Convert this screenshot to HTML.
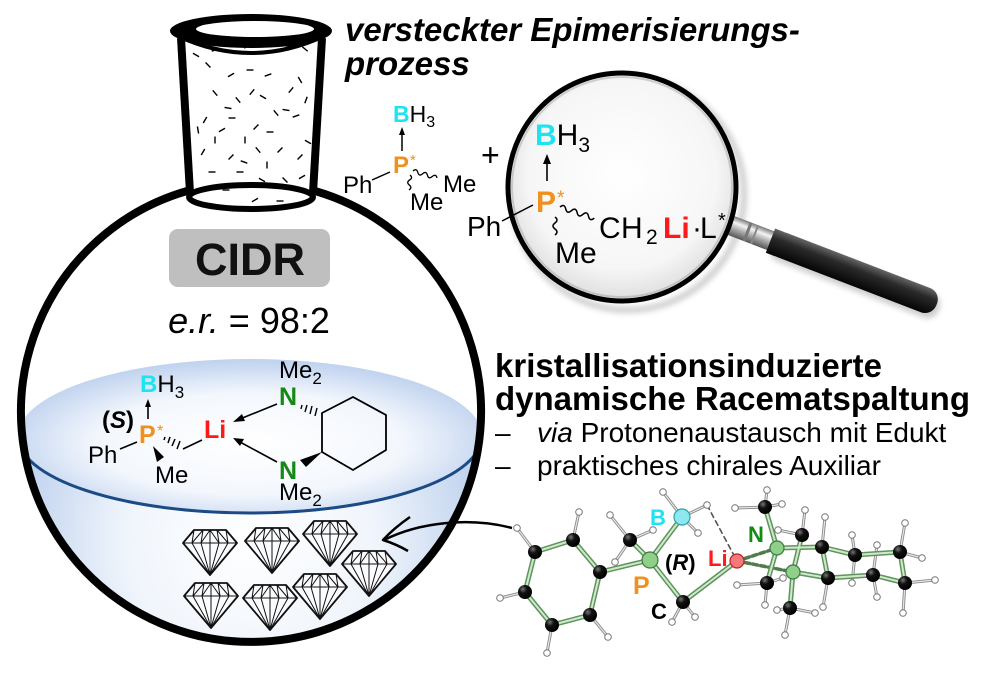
<!DOCTYPE html>
<html><head><meta charset="utf-8"><style>
html,body{margin:0;padding:0;background:#fff;}
svg{display:block;}
text{font-family:"Liberation Sans",Arial,sans-serif;}
</style></head><body>
<svg width="1000" height="674" viewBox="0 0 1000 674" xmlns="http://www.w3.org/2000/svg">
<defs>
  <clipPath id="sph"><circle cx="251" cy="412" r="227"/></clipPath>
  <radialGradient id="body" cx="250" cy="540" r="250" gradientUnits="userSpaceOnUse">
    <stop offset="0" stop-color="#ffffff"/><stop offset="0.5" stop-color="#f0f5fc"/><stop offset="1" stop-color="#b8cdeb"/>
  </radialGradient>
  <radialGradient id="surf" cx="0.5" cy="0.55" r="0.55">
    <stop offset="0" stop-color="#ffffff"/><stop offset="0.6" stop-color="#f3f7fd"/><stop offset="1" stop-color="#bed1ee"/>
  </radialGradient>
  <radialGradient id="lens" cx="0.5" cy="0.45" r="0.55">
    <stop offset="0" stop-color="#ffffff"/><stop offset="0.75" stop-color="#f6f6f6"/><stop offset="1" stop-color="#dedede"/>
  </radialGradient>
  <linearGradient id="handle" x1="0" y1="0" x2="0" y2="1">
    <stop offset="0" stop-color="#666"/><stop offset="0.35" stop-color="#2a2a2a"/><stop offset="1" stop-color="#050505"/>
  </linearGradient>
  <linearGradient id="ferr" x1="0" y1="0" x2="0" y2="1">
    <stop offset="0" stop-color="#777"/><stop offset="0.3" stop-color="#f4f4f4"/><stop offset="0.6" stop-color="#aaa"/><stop offset="1" stop-color="#555"/>
  </linearGradient>
  <radialGradient id="atom" cx="0.35" cy="0.3" r="0.7">
    <stop offset="0" stop-color="#777"/><stop offset="0.4" stop-color="#111"/><stop offset="1" stop-color="#000"/>
  </radialGradient>
  <filter id="blur" x="-20%" y="-20%" width="140%" height="140%"><feGaussianBlur stdDeviation="3"/></filter>
  <line id="d" x1="-3.5" y1="0" x2="3.5" y2="0" stroke="#000" stroke-width="1.4"/>
  <g id="gem" stroke="#111" stroke-width="1" fill="none" stroke-linejoin="round">
    <path d="M11 0 L43 0 L54 13 L27 45 L0 13 Z" fill="#fbfcff" stroke-width="1.8"/>
    <path d="M0 13 L54 13"/>
    <path d="M0 13 L11 0 L9 13 L20 0 L18 13 L27 0 L27 13 M27 0 L36 13 L34 0 L45 13 L43 0 L54 13"/>
    <path d="M9 13 L27 45 M18 13 L27 45 M27 13 L27 45 M36 13 L27 45 M45 13 L27 45"/>
    <path d="M11 0 L20 0 M34 0 L43 0"/>
  </g>
</defs>

<!-- LIQUID -->
<g clip-path="url(#sph)">
  <rect x="0" y="436" width="520" height="240" fill="url(#body)"/>
  <ellipse cx="250" cy="436" rx="232" ry="77" fill="url(#surf)"/>
  <path d="M18 436 A232 77 0 0 0 482 436" fill="none" stroke="#1b4a85" stroke-width="3"/>
</g>

<!-- SPHERE -->
<path d="M187 191 A230 230 0 1 0 315 191" fill="none" stroke="#000" stroke-width="8"/>

<!-- NECK -->
<path d="M181 38 L190 195 L313 195 L322 38 Z" fill="#fff"/>
<g>
<use href="#d" transform="translate(196,55) rotate(30)"/>
<use href="#d" transform="translate(215,50) rotate(-20)"/>
<use href="#d" transform="translate(247,46) rotate(-40)"/>
<use href="#d" transform="translate(289,46) rotate(0)"/>
<use href="#d" transform="translate(305,49) rotate(40)"/>
<use href="#d" transform="translate(208,65) rotate(45)"/>
<use href="#d" transform="translate(231,75) rotate(-30)"/>
<use href="#d" transform="translate(250,70) rotate(0)"/>
<use href="#d" transform="translate(268,75) rotate(-20)"/>
<use href="#d" transform="translate(300,80) rotate(60)"/>
<use href="#d" transform="translate(215,93) rotate(50)"/>
<use href="#d" transform="translate(228,108) rotate(10)"/>
<use href="#d" transform="translate(238,100) rotate(50)"/>
<use href="#d" transform="translate(252,92) rotate(-50)"/>
<use href="#d" transform="translate(263,97) rotate(30)"/>
<use href="#d" transform="translate(276,113) rotate(50)"/>
<use href="#d" transform="translate(286,110) rotate(10)"/>
<use href="#d" transform="translate(205,120) rotate(-60)"/>
<use href="#d" transform="translate(232,118) rotate(0)"/>
<use href="#d" transform="translate(256,127) rotate(-45)"/>
<use href="#d" transform="translate(270,132) rotate(0)"/>
<use href="#d" transform="translate(296,116) rotate(-20)"/>
<use href="#d" transform="translate(308,142) rotate(30)"/>
<use href="#d" transform="translate(203,152) rotate(-60)"/>
<use href="#d" transform="translate(215,140) rotate(90)"/>
<use href="#d" transform="translate(231,157) rotate(-45)"/>
<use href="#d" transform="translate(244,162) rotate(20)"/>
<use href="#d" transform="translate(258,150) rotate(50)"/>
<use href="#d" transform="translate(267,165) rotate(90)"/>
<use href="#d" transform="translate(280,150) rotate(-45)"/>
<use href="#d" transform="translate(300,157) rotate(-45)"/>
<use href="#d" transform="translate(212,172) rotate(0)"/>
<use href="#d" transform="translate(240,172) rotate(0)"/>
<use href="#d" transform="translate(262,180) rotate(30)"/>
<use href="#d" transform="translate(285,180) rotate(45)"/>
<use href="#d" transform="translate(302,177) rotate(-30)"/>
<use href="#d" transform="translate(226,190) rotate(0)"/>
<use href="#d" transform="translate(255,200) rotate(-30)"/>
<use href="#d" transform="translate(280,201) rotate(0)"/>
<use href="#d" transform="translate(198,130) rotate(80)"/>
<use href="#d" transform="translate(306,100) rotate(-70)"/>
<use href="#d" transform="translate(245,140) rotate(90)"/>
<use href="#d" transform="translate(222,130) rotate(-30)"/>
<use href="#d" transform="translate(291,90) rotate(-50)"/>
</g>
<line x1="181" y1="38" x2="190" y2="193" stroke="#000" stroke-width="8"/>
<line x1="322" y1="38" x2="313" y2="193" stroke="#000" stroke-width="8"/>
<ellipse cx="251" cy="197" rx="62" ry="12" fill="none" stroke="#000" stroke-width="6"/>
<path d="M178 36 Q251 70 324 36" fill="none" stroke="#000" stroke-width="4"/>
<ellipse cx="251" cy="31" rx="81" ry="17" fill="#000"/>
<ellipse cx="255" cy="29" rx="59" ry="8" fill="#fff"/>

<!-- CIDR -->
<rect x="169" y="229" width="161" height="58" rx="9" fill="#bfbfbf"/>
<text x="250" y="275" font-size="45" font-weight="bold" text-anchor="middle" fill="#111">CIDR</text>
<text x="249" y="333" font-size="36" text-anchor="middle"><tspan font-style="italic">e.r.</tspan> = 98:2</text>

<!-- Molecule in liquid -->
<g font-size="24">
  <text x="140" y="392"><tspan fill="#1ee3f0" font-weight="bold">B</tspan>H<tspan font-size="17" dy="6">3</tspan></text>
  <line x1="148" y1="419" x2="148" y2="405" stroke="#000" stroke-width="1.6"/>
  <polygon points="148,399 145,407 151,407" fill="#000"/>
  <text x="102" y="428" font-weight="bold">(<tspan font-style="italic">S</tspan>)</text>
  <text x="139" y="443" font-weight="bold" font-size="25" fill="#f0901e">P</text>
  <text x="157" y="436" font-size="16" fill="#f0901e">*</text>
  <text x="88" y="463">Ph</text>
  <line x1="120" y1="449" x2="137" y2="442" stroke="#000" stroke-width="1.6"/>
  <polygon points="153,446 157,462 164,457" fill="#000"/>
  <text x="155" y="483">Me</text>
  <g stroke="#000" stroke-width="1.5">
    <line x1="165" y1="437" x2="164" y2="440"/>
    <line x1="170" y1="437" x2="168" y2="443"/>
    <line x1="175" y1="439" x2="172" y2="446"/>
    <line x1="180" y1="441" x2="177" y2="449"/>
  </g>
  <line x1="183" y1="449" x2="202" y2="440" stroke="#000" stroke-width="1.6"/>
  <text x="204" y="438" font-weight="bold" font-size="25" fill="#ff1a1a">Li</text>
  <line x1="277" y1="404" x2="240" y2="419" stroke="#000" stroke-width="1.6"/>
  <polygon points="233,422 242,414 245,421" fill="#000"/>
  <line x1="277" y1="462" x2="240" y2="442" stroke="#000" stroke-width="1.6"/>
  <polygon points="233,438 244,439 240,446" fill="#000"/>
  <text x="279" y="405" font-weight="bold" font-size="25" fill="#138a13">N</text>
  <text x="279" y="479" font-weight="bold" font-size="25" fill="#138a13">N</text>
  <text x="279" y="378">Me<tspan font-size="17" dy="6">2</tspan></text>
  <text x="279" y="500">Me<tspan font-size="17" dy="6">2</tspan></text>
  <g stroke="#000" stroke-width="1.4">
    <line x1="302" y1="405" x2="301" y2="409"/>
    <line x1="307" y1="405" x2="305" y2="412"/>
    <line x1="312" y1="406" x2="310" y2="414"/>
    <line x1="317" y1="408" x2="315" y2="416"/>
  </g>
  <polygon points="300,460 306,467 322,452" fill="#000"/>
  <polygon points="322,413 353,397 386,415 386,450 353,470 322,452" fill="none" stroke="#000" stroke-width="1.8"/>
</g>

<!-- Diamonds -->
<use href="#gem" transform="translate(183,530)"/>
<use href="#gem" transform="translate(245,528)"/>
<use href="#gem" transform="translate(303,521)"/>
<use href="#gem" transform="translate(342,551)"/>
<use href="#gem" transform="translate(184,583)"/>
<use href="#gem" transform="translate(243,585)"/>
<use href="#gem" transform="translate(293,574)"/>

<!-- Curved arrow -->
<path d="M512 528 C470 517 420 522 384 540" fill="none" stroke="#000" stroke-width="2.5"/>
<path d="M410 517 Q394 528 383 540 Q396 544 408 551" fill="none" stroke="#000" stroke-width="2.5" stroke-linejoin="round"/>

<!-- Top text -->
<text x="345" y="41" font-size="33" font-weight="bold" font-style="italic">versteckter Epimerisierungs-</text>
<text x="345" y="75" font-size="33" font-weight="bold" font-style="italic">prozess</text>

<!-- Small molecule -->
<g font-size="23">
  <text x="393" y="122"><tspan fill="#1ee3f0" font-weight="bold">B</tspan>H<tspan font-size="16" dy="5">3</tspan></text>
  <line x1="402" y1="151" x2="402" y2="133" stroke="#000" stroke-width="1.5"/>
  <polygon points="402,127 399,135 405,135" fill="#000"/>
  <text x="393" y="173" font-weight="bold" font-size="24" fill="#f0901e">P</text>
  <text x="410" y="165" font-size="15" fill="#f0901e">*</text>
  <text x="343" y="193" font-size="24">Ph</text>
  <line x1="372" y1="180" x2="390" y2="172" stroke="#000" stroke-width="1.4"/>
  <path d="M0 0 q2.5 -4 5 0 t5 0 t5 0 t5 0 t5 0" fill="none" stroke="#000" stroke-width="1.3" transform="translate(413,171) rotate(16)"/>
  <path d="M0 0 q2.5 -3.5 5 0 t5 0 t5 0" fill="none" stroke="#000" stroke-width="1.3" transform="translate(410,175) rotate(94)"/>
  <text x="443" y="192" font-size="24">Me</text>
  <text x="410" y="210" font-size="24">Me</text>
</g>
<text x="481" y="166" font-size="32">+</text>

<!-- Magnifier -->
<circle cx="628" cy="194" r="116" fill="none" stroke="rgba(0,0,0,0.2)" stroke-width="6" filter="url(#blur)"/>
<g transform="translate(735,227) rotate(21)">
  <rect x="40" y="-9" width="180" height="26" rx="12" fill="rgba(0,0,0,0.2)" filter="url(#blur)"/>
  <rect x="-4" y="-10" width="44" height="20" fill="url(#ferr)"/>
  <rect x="12" y="-10" width="3" height="20" fill="#777"/>
  <rect x="20" y="-10" width="2" height="20" fill="#888"/>
  <rect x="38" y="-13" width="178" height="26" rx="12" fill="url(#handle)"/>
  <rect x="38" y="-13" width="10" height="26" fill="url(#handle)"/>
</g>
<circle cx="622" cy="187" r="114" fill="url(#lens)" stroke="#000" stroke-width="5"/>
<circle cx="622" cy="187" r="110" fill="none" stroke="rgba(120,120,120,0.3)" stroke-width="2"/>

<!-- Lens molecule -->
<g font-size="30">
  <text x="535" y="145"><tspan fill="#1ee3f0" font-weight="bold">B</tspan>H<tspan font-size="21" dy="7">3</tspan></text>
  <line x1="547" y1="181" x2="547" y2="161" stroke="#000" stroke-width="1.6"/>
  <polygon points="547,154 543,164 551,164" fill="#000"/>
  <text x="536" y="212" font-weight="bold" fill="#f0901e">P</text>
  <text x="557" y="204" font-size="19" fill="#f0901e">*</text>
  <text x="467" y="236" font-size="28">Ph</text>
  <line x1="502" y1="221" x2="533" y2="205" stroke="#000" stroke-width="1.5"/>
  <path d="M0 0 q3 -5 6 0 t6 0 t6 0 t6 0 t6 0 t6 0" fill="none" stroke="#000" stroke-width="1.5" transform="translate(560,207) rotate(18)"/>
  <path d="M0 0 q3 -4 6 0 t6 0 t6 0" fill="none" stroke="#000" stroke-width="1.5" transform="translate(555,217) rotate(90)"/>
  <text y="238"><tspan x="599">C</tspan><tspan x="621">H</tspan><tspan x="646" font-size="21" dy="6">2</tspan><tspan x="663" dy="-6" font-weight="bold" fill="#ff1a1a">Li</tspan><tspan x="692">·</tspan><tspan x="700">L</tspan><tspan x="718" font-size="20" dy="-11">*</tspan></text>
  <text x="555" y="263">Me</text>
</g>

<!-- Right text -->
<text x="495" y="377" font-size="33" font-weight="bold">kristallisationsinduzierte</text>
<text x="495" y="410" font-size="33" font-weight="bold">dynamische Racematspaltung</text>
<text x="495" y="442" font-size="28">–</text>
<text x="537" y="442" font-size="28"><tspan font-style="italic">via</tspan> Protonenaustausch mit Edukt</text>
<text x="495" y="475" font-size="28">–</text>
<text x="537" y="475" font-size="28">praktisches chirales Auxiliar</text>

<!-- 3D structure -->
<g stroke-linecap="round" fill="none">
  <g stroke="#8a8a8a" stroke-width="3">
    <path d="M535 552 L517 528 M573 540 L579 512 M590 615 L608 637 M552 625 L547 653 M525 592 L500 598
             M630 540 L610 515 M630 540 L653 530 M630 540 L615 562
             M682 517 L663 492 M682 517 L707 505 M682 517 L698 533
             M683 602 L672 622 M683 602 L695 617
             M765 507 L735 508 M765 507 L782 504 M765 507 L767 490
             M767 583 L737 585 M767 583 L783 578 M767 583 L765 605
             M802 535 L805 510 M802 535 L778 530
             M790 608 L785 635 M790 608 L815 613 M790 608 L777 610
             M822 547 L825 517 M855 555 L852 535 M855 555 L852 583 M900 552 L905 523 M900 552 L922 558
             M905 583 L935 580 M905 583 L903 613 M873 575 L877 597 M873 575 L877 545 M828 578 L823 607"/>
  </g>
  <g stroke="#e8e8e8" stroke-width="1.2">
    <path d="M535 552 L517 528 M573 540 L579 512 M590 615 L608 637 M552 625 L547 653 M525 592 L500 598
             M630 540 L610 515 M630 540 L653 530 M630 540 L615 562
             M682 517 L663 492 M682 517 L707 505 M682 517 L698 533
             M683 602 L672 622 M683 602 L695 617
             M765 507 L735 508 M765 507 L782 504 M765 507 L767 490
             M767 583 L737 585 M767 583 L783 578 M767 583 L765 605
             M802 535 L805 510 M802 535 L778 530
             M790 608 L785 635 M790 608 L815 613 M790 608 L777 610
             M822 547 L825 517 M855 555 L852 535 M855 555 L852 583 M900 552 L905 523 M900 552 L922 558
             M905 583 L935 580 M905 583 L903 613 M873 575 L877 597 M873 575 L877 545 M828 578 L823 607"/>
  </g>
  <line x1="707" y1="505" x2="737" y2="561" stroke="#555" stroke-width="1.6" stroke-dasharray="5 4"/>
  <line x1="737" y1="561" x2="777" y2="548" stroke="#4d7d4d" stroke-width="3.5" stroke-dasharray="5 3"/>
  <line x1="737" y1="561" x2="793" y2="572" stroke="#4d7d4d" stroke-width="3.5" stroke-dasharray="5 3"/>
  <g stroke="#5f935f" stroke-width="5">
    <path d="M535 552 L573 540 L600 572 L590 615 L552 625 L525 592 Z
             M600 572 L650 560 M650 560 L630 540 M650 560 L682 517 M650 560 L683 602 L737 561
             M777 548 L765 507 M777 548 L767 583 M793 572 L802 535 M793 572 L790 608
             M777 548 L822 547 M793 572 L828 578
             M822 547 L828 578 M822 547 L855 555 L900 552 L905 583 L873 575 L828 578"/>
  </g>
  <g stroke="#cfeac9" stroke-width="2">
    <path d="M535 552 L573 540 L600 572 L590 615 L552 625 L525 592 Z
             M600 572 L650 560 M650 560 L630 540 M650 560 L682 517 M650 560 L683 602 L737 561
             M777 548 L765 507 M777 548 L767 583 M793 572 L802 535 M793 572 L790 608
             M777 548 L822 547 M793 572 L828 578
             M822 547 L828 578 M822 547 L855 555 L900 552 L905 583 L873 575 L828 578"/>
  </g>
</g>
<g fill="#fff" stroke="#777" stroke-width="1">
  <circle cx="517" cy="528" r="3.3"/><circle cx="579" cy="512" r="3.3"/><circle cx="608" cy="637" r="3.3"/>
  <circle cx="547" cy="653" r="3.3"/><circle cx="500" cy="598" r="3.3"/>
  <circle cx="610" cy="515" r="3.3"/><circle cx="653" cy="530" r="3.3"/><circle cx="615" cy="562" r="3.3"/>
  <circle cx="663" cy="492" r="3.3"/><circle cx="707" cy="505" r="3.3"/><circle cx="698" cy="533" r="3.3"/>
  <circle cx="672" cy="622" r="3.3"/><circle cx="695" cy="617" r="3.3"/>
  <circle cx="735" cy="508" r="3.3"/><circle cx="782" cy="504" r="3.3"/><circle cx="767" cy="490" r="3.3"/>
  <circle cx="737" cy="585" r="3.3"/><circle cx="783" cy="578" r="3.3"/><circle cx="765" cy="605" r="3.3"/>
  <circle cx="805" cy="510" r="3.3"/><circle cx="778" cy="530" r="3.3"/>
  <circle cx="785" cy="635" r="3.3"/><circle cx="815" cy="613" r="3.3"/><circle cx="777" cy="610" r="3.3"/>
  <circle cx="825" cy="517" r="3.3"/><circle cx="852" cy="535" r="3.3"/><circle cx="852" cy="583" r="3.3"/>
  <circle cx="905" cy="523" r="3.3"/><circle cx="922" cy="558" r="3.3"/><circle cx="935" cy="580" r="3.3"/>
  <circle cx="903" cy="613" r="3.3"/><circle cx="877" cy="597" r="3.3"/><circle cx="877" cy="545" r="3.3"/>
  <circle cx="823" cy="607" r="3.3"/>
</g>
<g fill="url(#atom)">
  <circle cx="535" cy="552" r="7"/><circle cx="573" cy="540" r="7"/><circle cx="600" cy="572" r="7"/>
  <circle cx="590" cy="615" r="7"/><circle cx="552" cy="625" r="7"/><circle cx="525" cy="592" r="7"/>
  <circle cx="630" cy="540" r="7"/><circle cx="683" cy="602" r="7"/>
  <circle cx="765" cy="507" r="7"/><circle cx="767" cy="583" r="7"/><circle cx="802" cy="535" r="7"/><circle cx="790" cy="608" r="7"/>
  <circle cx="822" cy="547" r="7"/><circle cx="828" cy="578" r="7"/><circle cx="855" cy="555" r="7"/>
  <circle cx="873" cy="575" r="7"/><circle cx="900" cy="552" r="7"/><circle cx="905" cy="583" r="7"/>
</g>
<circle cx="650" cy="560" r="8" fill="#8fcf8a" stroke="#3d7a3d" stroke-width="1.2"/>
<circle cx="682" cy="517" r="8" fill="#8ee6ee" stroke="#2aa0aa" stroke-width="1.2"/>
<circle cx="737" cy="561" r="7" fill="#f27a7a" stroke="#c02020" stroke-width="1.2"/>
<circle cx="777" cy="548" r="7" fill="#8fcf8a" stroke="#3d7a3d" stroke-width="1.2"/>
<circle cx="793" cy="572" r="7" fill="#8fcf8a" stroke="#3d7a3d" stroke-width="1.2"/>
<text x="650" y="525" font-size="22" font-weight="bold" fill="#1ee3f0">B</text>
<text x="633" y="594" font-size="25" font-weight="bold" fill="#f0901e">P</text>
<text x="665" y="570" font-size="22" font-weight="bold">(<tspan font-style="italic">R</tspan>)</text>
<text x="708" y="566" font-size="22" font-weight="bold" fill="#ff1a1a">Li</text>
<text x="748" y="542" font-size="22" font-weight="bold" fill="#138a13">N</text>
<text x="651" y="619" font-size="22" font-weight="bold">C</text>
</svg>
</body></html>
